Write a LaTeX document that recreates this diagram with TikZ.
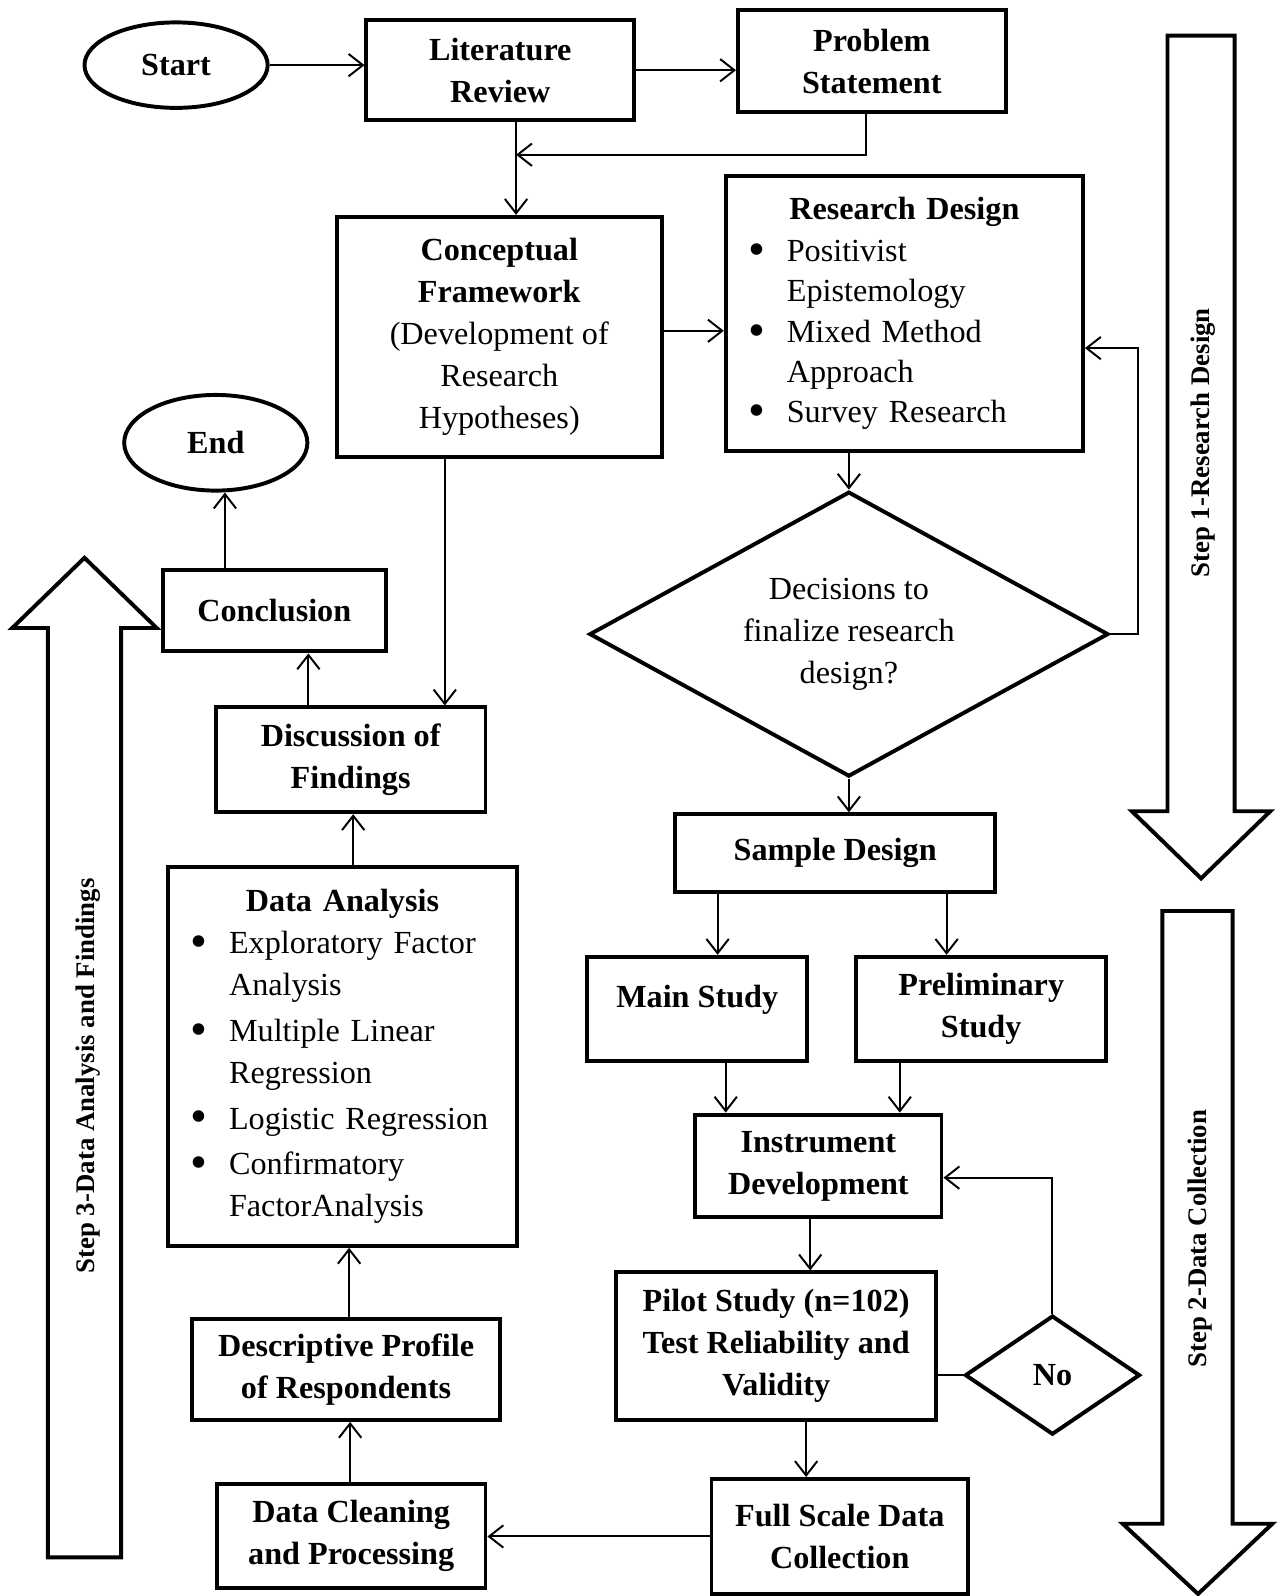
\documentclass[tikz,border=0pt]{standalone}
\usepackage{fontspec}
\setmainfont{Liberation Serif}
\usetikzlibrary{arrows.meta,shapes.geometric}

\newcommand{\bul}{\makebox[1.0cm][l]{\hspace{0.24cm}\raisebox{-0.12em}{\scalebox{1.5}{\textbullet}}}}
\newcommand{\bulind}{\hspace*{1.0cm}}

\tikzset{
  box/.style={draw, line width=2.2pt, align=center, inner sep=0.2cm,
    font=\fontsize{18}{23.5}\selectfont\bfseries},
  listbox/.style={draw, line width=2.2pt, align=left, inner sep=0.2cm,
    font=\fontsize{18}{23.5}\selectfont},
  term/.style={draw, ellipse, line width=2.2pt, inner sep=0pt,
    font=\fontsize{18}{23.5}\selectfont\bfseries},
  choice/.style={draw, diamond, line width=2.2pt, inner sep=0pt, align=center,
    font=\fontsize{18}{23.5}\selectfont},
  arr/.style={line width=1.1pt, -{Straight Barb[length=8pt,width=12.5pt]}},
  con/.style={line width=1.1pt},
  bigarrow/.style={line width=2.2pt},
  steptext/.style={font=\fontsize{15}{18}\selectfont\bfseries, rotate=90}
}

\begin{document}
\begin{tikzpicture}[x=0.02cm, y=-0.02cm]
        \useasboundingbox (0,0) rectangle (1260,1568);

        % Draw step arrows
        \draw[bigarrow] (1147,35) -- (1213,35) -- (1213,797) -- (1248,797) -- (1180,863) -- (1112,797) -- (1147,797) -- cycle;
        \draw[bigarrow] (1142,895) -- (1211,895) -- (1211,1497) -- (1250,1497) -- (1177,1566) -- (1103,1497) -- (1142,1497) -- cycle;
        \draw[bigarrow] (47,1530) -- (119,1530) -- (119,617) -- (154,617) -- (83,548) -- (12,617) -- (47,617) -- cycle;
        \node[steptext] (stepA) at (1182,435) {Step 1-Research Design};
        \node[steptext] (stepB) at (1179,1217) {Step 2-Data Collection};
        \node[steptext] (stepC) at (87,1057) {Step 3-Data Analysis and Findings};

        % Draw step 1 nodes
        \node[term, minimum width=3.6cm, minimum height=1.68cm] (start) at (173,64) {Start};
        \node[box, minimum width=5.26cm, minimum height=1.96cm] (lit) at (491.5,69) {Literature\\Review};
        \node[box, minimum width=5.26cm, minimum height=2.0cm] (prob) at (856.5,60) {Problem\\Statement};
        \node[box, minimum width=6.38cm, minimum height=4.72cm] (cf) at (490.5,331)
          {Conceptual\\Framework\\\mdseries (Development of\\\mdseries Research\\\mdseries Hypotheses)};
        \node[listbox, font=\fontsize{18}{22.5}\selectfont, text width=6.62cm, minimum height=5.42cm] (rd) at (888.5,308)
          {\makebox[6.62cm][c]{\bfseries Research Design}\\[1pt]
           \bul Positivist\\ \bulind Epistemology\\
           \bul Mixed Method\\ \bulind Approach\\
           \bul Survey Research};
        \node[choice, aspect=1.82, minimum width=10.2cm, minimum height=5.6cm] (decide) at (834,623)
          {Decisions to\\finalize research\\design?};

        % Draw step 2 nodes
        \node[box, minimum width=6.3cm, minimum height=1.52cm] (sample) at (820.5,838) {Sample Design};
        \node[box, minimum width=4.32cm, minimum height=2.04cm] (main) at (685,991) {Main Study\\[-10pt]\mbox{}};
        \node[box, minimum width=4.92cm, minimum height=2.04cm] (prelim) at (964,991) {Preliminary\\Study};
        \node[box, minimum width=4.84cm, minimum height=2.02cm] (instr) at (804,1145.5) {Instrument\\Development};
        \node[box, minimum width=6.3cm, minimum height=2.9cm] (pilot) at (762.5,1322.5)
          {Pilot Study (n=102)\\Test Reliability and\\Validity};
        \node[choice, font=\fontsize{18}{23.5}\selectfont\bfseries, aspect=1.47, minimum width=3.44cm, minimum height=2.34cm] (no) at (1034,1351) {No};
        \node[box, minimum width=5.04cm, minimum height=2.26cm] (full) at (825,1509.5) {Full Scale Data\\Collection};

        % Draw step 3 nodes
        \node[box, minimum width=5.28cm, minimum height=2.04cm] (clean) at (345,1509) {Data Cleaning\\and Processing};
        \node[box, minimum width=6.04cm, minimum height=1.98cm] (desc) at (340,1345.5) {Descriptive Profile\\of Respondents};
        \node[listbox, text width=6.46cm, minimum height=7.44cm] (da) at (336.5,1038)
          {\makebox[6.46cm][c]{\bfseries Data Analysis}\\
           \bul Exploratory Factor\\ \bulind Analysis\\[2pt]
           \bul Multiple Linear\\ \bulind Regression\\[2pt]
           \bul Logistic Regression\\[2pt]
           \bul Confirmatory\\ \bulind FactorAnalysis};
        \node[box, minimum width=5.3cm, minimum height=2.06cm] (disc) at (344.5,746.5) {Discussion of\\Findings};
        \node[box, minimum width=4.38cm, minimum height=1.6cm] (concl) at (269.5,600) {Conclusion};
        \node[term, minimum width=3.6cm, minimum height=1.88cm] (end) at (212,435) {End};

        % Draw connectors
        \coordinate (litjoin) at (507,152);
        \coordinate (rdloop) at (1118,342);
        \draw[arr] (start.east) -- (start.east -| lit.west);
        \draw[arr] (lit.east) -- (lit.east -| prob.west);
        \draw[arr] (litjoin |- lit.south) -- (litjoin |- cf.north);
        \draw[arr] (851,0 |- prob.south) |- (litjoin);
        \draw[arr] (cf.east |- 0,325) -- (rd.west |- 0,325);
        \draw[arr] (decide.north |- rd.south) -- (decide.north);
        \draw[arr] (decide.east) -| (rdloop) -- (rdloop -| rd.east);
        \draw[arr] (decide.south) -- (decide.south |- sample.north);
        \draw[arr] (705,0 |- sample.south) -- (705,0 |- main.north);
        \draw[arr] (930,0 |- sample.south) -- (930,0 |- prelim.north);
        \draw[arr] (713,0 |- main.south) -- (713,0 |- instr.north);
        \draw[arr] (884,0 |- prelim.south) -- (884,0 |- instr.north);
        \draw[arr] (796,0 |- instr.south) -- (796,0 |- pilot.north);
        \draw[con] (pilot.east |- no.west) -- (no.west);
        \draw[arr] (no.north) |- (instr.east |- 0,1157);
        \draw[arr] (792,0 |- pilot.south) -- (792,0 |- full.north);
        \draw[arr] (full.west) -- (full.west -| clean.east);
        \draw[arr] (344,0 |- clean.north) -- (344,0 |- desc.south);
        \draw[arr] (343,0 |- desc.north) -- (343,0 |- da.south);
        \draw[arr] (347,0 |- da.north) -- (347,0 |- disc.south);
        \draw[arr] (437,0 |- cf.south) -- (437,0 |- disc.north);
        \draw[arr] (303,0 |- disc.north) -- (303,0 |- concl.south);
        \draw[arr] (221,0 |- concl.north) -- (221,0 |- end.south);
      \end{tikzpicture}
\end{document}
